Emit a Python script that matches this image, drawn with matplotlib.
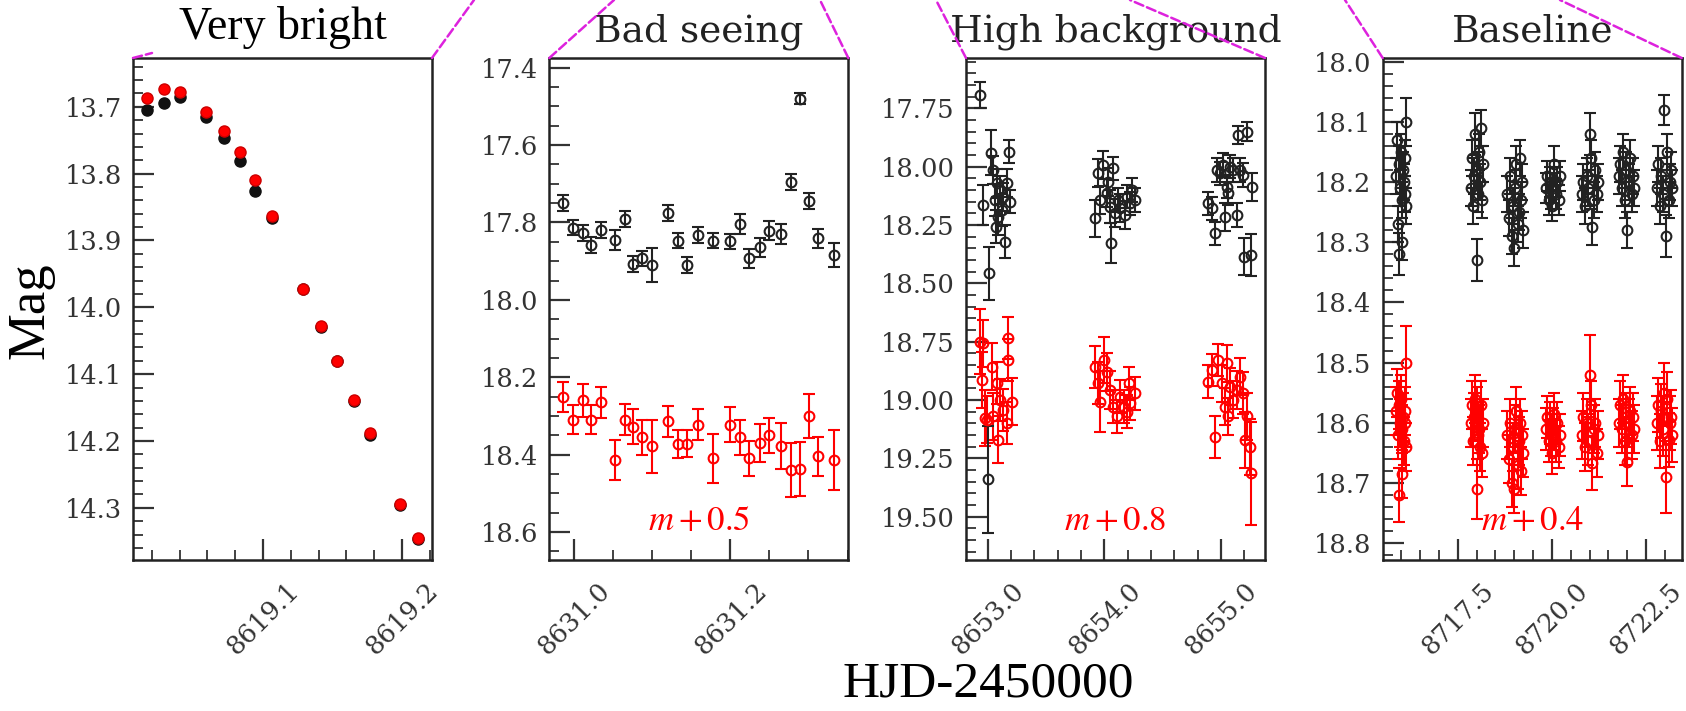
import numpy as np
import matplotlib
matplotlib.use('Agg')
import matplotlib.pyplot as plt
from matplotlib.ticker import MultipleLocator, FormatStrFormatter
from matplotlib.patches import ConnectionPatch

plt.rcParams['mathtext.fontset'] = 'stix'
plt.rcParams['font.family'] = 'DejaVu Serif'

# ---- panel 1: very bright ----
x1 = [8619.0166, 8619.0285, 8619.0400, 8619.0592, 8619.0717, 8619.0832, 8619.0945, 8619.1065,
      8619.1288, 8619.1417, 8619.1532, 8619.1657, 8619.1767, 8619.1988, 8619.2112]
y1k = [13.705, 13.694, 13.686, 13.716, 13.747, 13.781, 13.826, 13.866,
       13.973, 14.029, 14.081, 14.140, 14.191, 14.295, 14.346]
y1r = [13.687, 13.674, 13.678, 13.708, 13.736, 13.768, 13.810, 13.864,
       13.972, 14.028, 14.080, 14.139, 14.188, 14.294, 14.345]

# ---- panel 2: bad seeing ----
x2 = [8630.986, 8630.998, 8631.011, 8631.022, 8631.034, 8631.052, 8631.065, 8631.075, 8631.087,
      8631.100, 8631.120, 8631.133, 8631.144, 8631.159, 8631.178, 8631.200, 8631.212, 8631.224,
      8631.238, 8631.249, 8631.265, 8631.277, 8631.289, 8631.301, 8631.312, 8631.333]
y2k = [17.750, 17.813, 17.827, 17.858, 17.820, 17.845, 17.791, 17.907, 17.893, 17.910, 17.776,
       17.847, 17.910, 17.832, 17.847, 17.849, 17.804, 17.893, 17.864, 17.821, 17.830, 17.695,
       17.480, 17.744, 17.841, 17.884]
e2k = [0.02, 0.02, 0.02, 0.02, 0.02, 0.025, 0.02, 0.02, 0.02, 0.045, 0.02, 0.02, 0.02, 0.02,
       0.02, 0.02, 0.025, 0.025, 0.025, 0.025, 0.025, 0.02, 0.015, 0.02, 0.025, 0.03]
y2r = [18.250, 18.309, 18.259, 18.309, 18.265, 18.413, 18.309, 18.328, 18.355, 18.378, 18.313,
       18.372, 18.372, 18.322, 18.409, 18.322, 18.355, 18.409, 18.370, 18.350, 18.378, 18.439,
       18.437, 18.300, 18.404, 18.413]
e2r = [0.039, 0.037, 0.043, 0.037, 0.04, 0.052, 0.04, 0.045, 0.045, 0.069, 0.04, 0.037, 0.035,
       0.04, 0.063, 0.045, 0.045, 0.045, 0.05, 0.045, 0.06, 0.07, 0.07, 0.057, 0.05, 0.077]

# ---- panel 3: high background ----
x3k = [8652.934, 8652.957, 8653.014, 8653.000, 8653.026, 8653.048, 8653.063, 8653.071, 8653.077,
       8653.091, 8653.105, 8653.120, 8653.134, 8653.148, 8653.163, 8653.185, 8653.191,
       8653.920, 8653.948, 8653.960, 8653.991, 8654.020, 8654.033, 8654.048, 8654.055, 8654.076,
       8654.091, 8654.120, 8654.134, 8654.177, 8654.191, 8654.220, 8654.234, 8654.262,
       8654.890, 8654.919, 8654.948, 8654.962, 8654.990, 8655.019, 8655.033, 8655.048, 8655.062,
       8655.076, 8655.105, 8655.134, 8655.148, 8655.162, 8655.191, 8655.220, 8655.200, 8655.254,
       8655.262]
y3k = [17.693, 18.164, 18.457, 19.340, 17.940, 18.014, 18.143, 18.257, 18.071,
       18.214, 18.100, 18.186, 18.129, 18.322, 18.071, 17.936, 18.150,
       18.221, 18.028, 18.143, 17.993, 18.114, 18.064, 18.172, 18.328, 18.007,
       18.200, 18.143, 18.178, 18.207, 18.129, 18.157, 18.100, 18.143,
       18.157, 18.178, 18.286, 18.014, 18.028, 17.993, 18.214, 18.086, 18.114,
       18.000, 18.014, 18.207, 17.864, 18.014, 18.036, 17.850, 18.386, 18.379,
       18.086]
e3k = [0.057, 0.086, 0.114, 0.23, 0.096, 0.06, 0.07, 0.07, 0.06,
       0.08, 0.06, 0.07, 0.06, 0.07, 0.06, 0.05, 0.05,
       0.08, 0.06, 0.06, 0.06, 0.06, 0.06, 0.07, 0.086, 0.05,
       0.06, 0.05, 0.06, 0.06, 0.05, 0.05, 0.05, 0.05,
       0.05, 0.05, 0.05, 0.05, 0.05, 0.05, 0.06, 0.05, 0.05,
       0.05, 0.05, 0.05, 0.04, 0.05, 0.05, 0.04, 0.08, 0.09,
       0.06]
x3r = [8652.934, 8652.949, 8652.962, 8652.977, 8652.991, 8653.034, 8653.048, 8653.077, 8653.091,
       8653.105, 8653.134, 8653.163, 8653.170, 8653.177, 8653.206,
       8653.920, 8653.948, 8653.960, 8654.000, 8654.020, 8654.048, 8654.076, 8654.110, 8654.134,
       8654.170, 8654.191, 8654.210, 8654.220, 8654.262,
       8654.890, 8654.919, 8654.948, 8654.976, 8655.005, 8655.033, 8655.048, 8655.062, 8655.076,
       8655.105, 8655.134, 8655.162, 8655.191, 8655.205, 8655.220, 8655.250, 8655.256]
y3r = [18.750, 18.914, 18.757, 19.078, 19.085, 18.857, 19.070, 18.928, 19.170,
       18.999, 19.043, 19.100, 18.828, 18.735, 19.007,
       18.857, 18.928, 19.007, 18.828, 18.880, 18.957, 19.028, 19.070, 18.986,
       19.028, 19.050, 18.928, 19.014, 18.971,
       18.921, 18.871, 19.157, 18.828, 18.928, 19.028, 18.843, 19.070, 18.943,
       18.999, 18.957, 18.900, 18.971, 19.171, 19.070, 19.200, 19.314]
e3r = [0.14, 0.12, 0.10, 0.12, 0.10, 0.10, 0.10, 0.09, 0.10,
       0.09, 0.09, 0.09, 0.09, 0.09, 0.10,
       0.09, 0.09, 0.13, 0.10, 0.08, 0.08, 0.07, 0.07, 0.07,
       0.07, 0.07, 0.07, 0.07, 0.07,
       0.07, 0.07, 0.09, 0.07, 0.08, 0.08, 0.08, 0.08, 0.08,
       0.08, 0.08, 0.08, 0.09, 0.12, 0.10, 0.12, 0.22]

# ---- panel 4: baseline ----
x4 = [8715.86, 8715.88, 8715.91, 8715.93, 8715.95, 8715.97, 8715.99, 8716.01, 8716.03, 8716.05,
      8716.07, 8716.09, 8716.11, 8716.13, 8716.14,
      8717.85, 8717.88, 8717.91, 8717.94, 8717.97, 8718.00, 8718.02, 8718.04, 8718.06, 8718.09,
      8718.12, 8718.15, 8718.17,
      8718.82, 8718.86, 8718.90, 8718.94, 8718.97, 8719.00, 8719.03, 8719.06, 8719.09, 8719.12,
      8719.15, 8719.18, 8719.21, 8719.24,
      8719.84, 8719.88, 8719.92, 8719.95, 8719.98, 8720.01, 8720.04, 8720.07, 8720.10, 8720.14,
      8720.18, 8720.21,
      8720.80, 8720.84, 8720.88, 8720.92, 8720.96, 8721.00, 8721.03, 8721.07, 8721.11, 8721.15,
      8721.19, 8721.22,
      8721.77, 8721.81, 8721.85, 8721.89, 8721.93, 8721.97, 8722.00, 8722.04, 8722.08, 8722.12,
      8722.16, 8722.19,
      8722.79, 8722.83, 8722.87, 8722.91, 8722.95, 8722.99, 8723.02, 8723.06, 8723.10, 8723.13,
      8723.16, 8723.18]
y4k = [18.19, 18.13, 18.27, 18.32, 18.17, 18.21, 18.15, 18.30, 18.23, 18.18, 18.20, 18.16, 18.22, 18.10, 18.24,
       18.21, 18.16, 18.24, 18.19, 18.12, 18.33, 18.18, 18.22, 18.15, 18.20, 18.11, 18.23, 18.17,
       18.22, 18.26, 18.19, 18.29, 18.24, 18.31, 18.21, 18.17, 18.27, 18.25, 18.16, 18.23, 18.20, 18.28,
       18.21, 18.19, 18.23, 18.20, 18.22, 18.24, 18.21, 18.17, 18.22, 18.20, 18.23, 18.19,
       18.22, 18.20, 18.24, 18.19, 18.21, 18.12, 18.16, 18.275, 18.23, 18.18, 18.22, 18.20,
       18.19, 18.17, 18.21, 18.15, 18.23, 18.18, 18.28, 18.20, 18.16, 18.22, 18.19, 18.21,
       18.21, 18.17, 18.24, 18.19, 18.22, 18.08, 18.29, 18.15, 18.23, 18.20, 18.18, 18.21]
e4k = [0.03, 0.03, 0.03, 0.035, 0.03, 0.03, 0.03, 0.03, 0.03, 0.03, 0.03, 0.03, 0.03, 0.04, 0.03,
       0.03, 0.03, 0.03, 0.03, 0.035, 0.035, 0.03, 0.03, 0.03, 0.03, 0.03, 0.03, 0.03,
       0.03, 0.03, 0.03, 0.03, 0.03, 0.03, 0.03, 0.03, 0.03, 0.03, 0.03, 0.03, 0.03, 0.03,
       0.025, 0.025, 0.025, 0.025, 0.025, 0.025, 0.025, 0.03, 0.025, 0.025, 0.025, 0.025,
       0.03, 0.03, 0.03, 0.03, 0.03, 0.035, 0.03, 0.03, 0.03, 0.03, 0.03, 0.03,
       0.03, 0.03, 0.03, 0.03, 0.03, 0.03, 0.03, 0.03, 0.03, 0.03, 0.03, 0.03,
       0.03, 0.03, 0.03, 0.03, 0.03, 0.025, 0.035, 0.03, 0.03, 0.03, 0.03, 0.03]
y4r = [18.58, 18.55, 18.62, 18.72, 18.57, 18.60, 18.56, 18.685, 18.61, 18.59, 18.63, 18.58, 18.60, 18.50, 18.64,
       18.60, 18.57, 18.63, 18.59, 18.56, 18.71, 18.58, 18.62, 18.61, 18.64, 18.57, 18.65, 18.60,
       18.62, 18.66, 18.60, 18.70, 18.64, 18.71, 18.61, 18.58, 18.67, 18.63, 18.60, 18.68, 18.62, 18.65,
       18.61, 18.59, 18.63, 18.60, 18.62, 18.65, 18.61, 18.585, 18.63, 18.60, 18.64, 18.62,
       18.62, 18.59, 18.64, 18.60, 18.63, 18.52, 18.57, 18.667, 18.61, 18.60, 18.65, 18.62,
       18.60, 18.57, 18.61, 18.56, 18.63, 18.59, 18.665, 18.60, 18.58, 18.62, 18.59, 18.61,
       18.60, 18.57, 18.63, 18.58, 18.61, 18.55, 18.69, 18.56, 18.629, 18.60, 18.59, 18.62]
e4r = [0.04, 0.04, 0.04, 0.045, 0.04, 0.04, 0.04, 0.04, 0.04, 0.04, 0.04, 0.04, 0.04, 0.06, 0.04,
       0.04, 0.04, 0.04, 0.04, 0.04, 0.05, 0.04, 0.04, 0.04, 0.04, 0.04, 0.04, 0.04,
       0.04, 0.04, 0.04, 0.04, 0.04, 0.04, 0.04, 0.04, 0.04, 0.04, 0.04, 0.04, 0.04, 0.04,
       0.035, 0.035, 0.035, 0.035, 0.035, 0.035, 0.035, 0.035, 0.035, 0.035, 0.035, 0.035,
       0.04, 0.04, 0.04, 0.04, 0.04, 0.065, 0.04, 0.045, 0.04, 0.04, 0.04, 0.04,
       0.04, 0.04, 0.04, 0.04, 0.04, 0.04, 0.04, 0.04, 0.04, 0.04, 0.04, 0.04,
       0.045, 0.045, 0.045, 0.045, 0.045, 0.05, 0.06, 0.045, 0.045, 0.045, 0.045, 0.045]

titles = ['Very bright', 'Bad seeing', 'High background', 'Baseline']
offsets = ['', '$m+0.5$', '$m+0.8$', '$m+0.4$']

W, H = 1686, 711
fig = plt.figure(figsize=(W / 100, H / 100), dpi=100)

lefts = [133, 549.3, 966, 1382.7]
axs = [fig.add_axes([l / W, 1 - 560 / H, 299 / W, 502 / H]) for l in lefts]

ebk = dict(fmt='o', mfc='none', ms=7, mew=1.5, elinewidth=1.5, capsize=4, capthick=1.5)


def style(ax, xlim, ylim, xmaj, xmin, ymaj, ymin, xfmt, yfmt):
    ax.set_xlim(xlim)
    ax.set_ylim(ylim)
    ax.xaxis.set_major_locator(MultipleLocator(xmaj))
    ax.xaxis.set_minor_locator(MultipleLocator(xmin))
    ax.yaxis.set_major_locator(MultipleLocator(ymaj))
    ax.yaxis.set_minor_locator(MultipleLocator(ymin))
    ax.xaxis.set_major_formatter(FormatStrFormatter(xfmt))
    ax.yaxis.set_major_formatter(FormatStrFormatter(yfmt))
    ax.tick_params(which='both', direction='in', top=False, right=False, color='#333333',
                   labelcolor='#333333', labelsize=18.5)
    ax.tick_params(which='major', length=15, width=1.6)
    ax.tick_params(which='minor', length=7, width=1.3)
    ax.tick_params(axis='y', pad=8)
    ax.tick_params(axis='x', pad=13, labelrotation=45)
    for s in ax.spines.values():
        s.set_linewidth(1.8)
        s.set_color('#222222')


ax = axs[0]
ax.errorbar(x1, y1k, yerr=0.003, fmt='o', ms=8, color='#111111', elinewidth=1)
ax.errorbar(x1, y1r, yerr=0.003, fmt='o', ms=8, color='red', mec='#cc0000', elinewidth=1)
style(ax, (8619.0065, 8619.2216), (14.378, 13.627), 0.1, 0.02, 0.1, 0.02, '%.1f', '%.1f')

ax = axs[1]
ax.errorbar(x2, y2k, yerr=e2k, color='#222222', **ebk)
ax.errorbar(x2, y2r, yerr=e2r, color='red', **ebk)
style(ax, (8630.968, 8631.351), (18.672, 17.375), 0.2, 0.05, 0.2, 0.05, '%.1f', '%.1f')

ax = axs[2]
ax.errorbar(x3r, y3r, yerr=e3r, color='red', **ebk)
ax.errorbar(x3k, y3k, yerr=e3k, color='#222222', **ebk)
style(ax, (8652.814, 8655.377), (19.686, 17.534), 1.0, 0.2, 0.25, 0.05, '%.1f', '%.2f')

ax = axs[3]
ax.errorbar(x4, y4r, yerr=e4r, color='red', **ebk)
ax.errorbar(x4, y4k, yerr=e4k, color='#222222', **ebk)
style(ax, (8715.51, 8723.447), (18.828, 17.994), 2.5, 0.5, 0.1, 0.02, '%.1f', '%.1f')

axs[0].set_title(titles[0], fontsize=33, family='Liberation Serif', pad=14)
for ax, t, o in zip(axs[1:], titles[1:], offsets[1:]):
    ax.set_title(t, fontsize=27, pad=12, color='#222222')
    ax.text(0.5, 0.06, o, transform=ax.transAxes, ha='center', va='baseline',
            fontsize=25, color='red')

fig.text(0.018, 0.563, 'Mag', rotation=90, fontsize=38, family='Liberation Serif',
         ha='center', va='center')
fig.text(0.586, 0.037, 'HJD-2450000', fontsize=37, family='Liberation Serif',
         ha='center', va='center')

# magenta zoom connectors running up to the (cropped) parent plot
ends = [(152 / W, 1 - 53 / H), (474 / W, 1.0), (614 / W, 1.0), (820 / W, 1.0),
        (936 / W, 1.0), (1130 / W, 1.0), (1345 / W, 1.0), (1560 / W, 1.0)]
corners = [(0, 1), (1, 1)]
for i, ax in enumerate(axs):
    for j, c in enumerate(corners):
        cp = ConnectionPatch(xyA=c, coordsA=ax.transAxes, xyB=ends[2 * i + j],
                             coordsB=fig.transFigure, color='#dd22dd', ls='--', lw=1.8,
                             zorder=5)
        fig.add_artist(cp)

fig.savefig('out.png', dpi=100)
